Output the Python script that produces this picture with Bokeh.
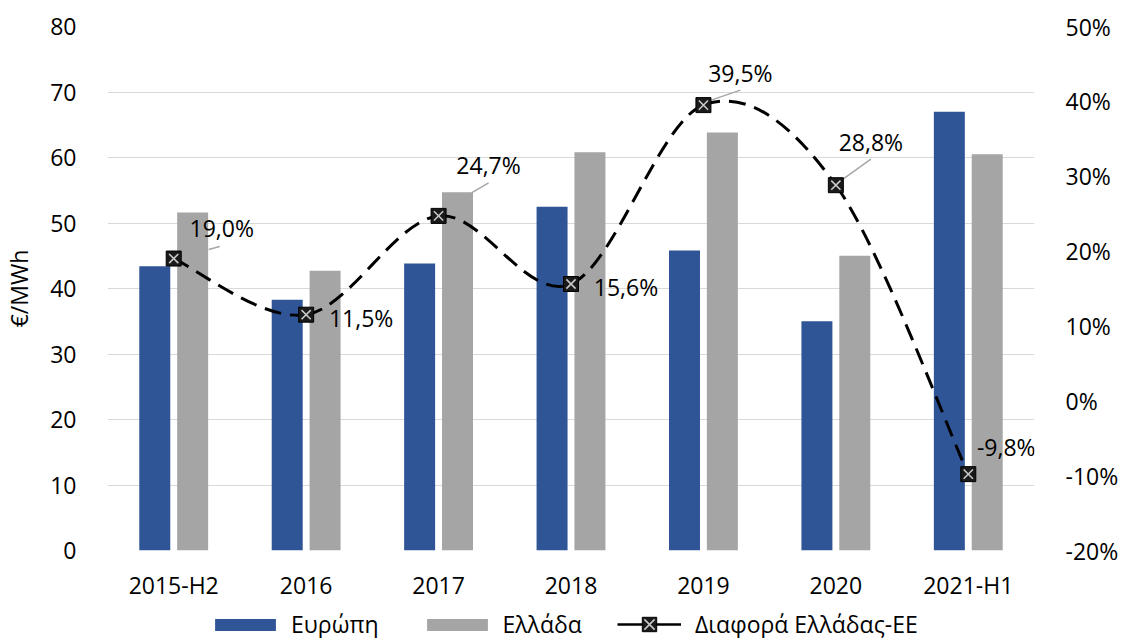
import numpy as np
from bokeh.plotting import figure
from bokeh.layouts import column
from bokeh.models import (Range1d, LinearAxis, FixedTicker, PrintfTickFormatter,
                          ColumnDataSource, Legend, LegendItem)
from bokeh.core.properties import value
from bokeh.embed import file_html
from bokeh.resources import INLINE

categories = ["2015-H2", "2016", "2017", "2018", "2019", "2020", "2021-H1"]
europe = [43.4, 38.3, 43.8, 52.5, 45.8, 35.0, 67.0]
greece = [51.6, 42.7, 54.7, 60.8, 63.8, 45.0, 60.5]
diff_pct = [19.0, 11.5, 24.7, 15.6, 39.5, 28.8, -9.8]
diff_labels = ["19,0%", "11,5%", "24,7%", "15,6%", "39,5%", "28,8%", "-9,8%"]
left_ticks = [0, 10, 20, 30, 40, 50, 60, 70, 80]
right_ticks = [-20, -10, 0, 10, 20, 30, 40, 50]

FONT = "Open Sans"
BLUE = "#2F5597"
GRAY = "#A5A5A5"
FS = "23px"

x = np.arange(len(categories), dtype=float)

p = figure(frame_width=927, frame_height=524, output_backend="svg", toolbar_location=None,
           x_range=Range1d(-0.5, len(categories) - 0.5), y_range=Range1d(0, 80),
           min_border_left=106, min_border_right=85, min_border_top=26, min_border_bottom=46)
p.outline_line_color = None
p.extra_y_ranges = {"pct": Range1d(-20, 50)}

# grid
p.xgrid.visible = False
p.ygrid.grid_line_color = "#D9D9D9"
p.ygrid.grid_line_width = 1.2
p.ygrid.ticker = FixedTicker(ticks=left_ticks)

# axes
for ax in [p.xaxis[0], p.yaxis[0]]:
    ax.axis_line_color = None
    ax.major_tick_line_color = None
    ax.minor_tick_line_color = None
    ax.major_label_text_font = FONT
    ax.major_label_text_font_size = FS
    ax.major_label_text_color = "#000000"
p.xaxis.ticker = FixedTicker(ticks=list(x))
p.xaxis.major_label_overrides = {i: c for i, c in enumerate(categories)}
p.xaxis.major_label_standoff = 12
p.yaxis.ticker = FixedTicker(ticks=left_ticks)
p.yaxis.major_label_standoff = 25
p.yaxis.axis_label = "€/MWh"
p.yaxis.axis_label_text_font = FONT
p.yaxis.axis_label_text_font_size = FS
p.yaxis.axis_label_text_font_style = "normal"
p.yaxis.axis_label_text_color = "#000000"
p.yaxis.axis_label_standoff = 12

rax = LinearAxis(y_range_name="pct", ticker=FixedTicker(ticks=right_ticks),
                 formatter=PrintfTickFormatter(format="%d%%"))
rax.axis_line_color = None
rax.major_tick_line_color = None
rax.minor_tick_line_color = None
rax.major_label_text_font = FONT
rax.major_label_text_font_size = FS
rax.major_label_text_color = "#000000"
rax.major_label_standoff = 25
p.add_layout(rax, "right")

# bars
off = 0.143
bw = 0.234
src = ColumnDataSource(dict(x=x, xe=x - off, xg=x + off, eu=europe, gr=greece,
                            d=diff_pct, lab=diff_labels))
p.vbar(x="xe", top="eu", width=bw, source=src, fill_color=BLUE, line_color=None)
p.vbar(x="xg", top="gr", width=bw, source=src, fill_color=GRAY, line_color=None)

# smoothed dashed line (Catmull-Rom bezier through the data points)
px = list(x)
py = list(diff_pct)
n = len(px)
x0, y0, x1, y1, cx0, cy0, cx1, cy1 = [], [], [], [], [], [], [], []
for i in range(n - 1):
    pm = i - 1 if i > 0 else i
    pn = i + 2 if i + 2 < n else i + 1
    x0.append(px[i]); y0.append(py[i]); x1.append(px[i + 1]); y1.append(py[i + 1])
    cx0.append(px[i] + (px[i + 1] - px[pm]) / 6.0)
    cy0.append(py[i] + (py[i + 1] - py[pm]) / 6.0)
    cx1.append(px[i + 1] - (px[pn] - px[i]) / 6.0)
    cy1.append(py[i + 1] - (py[pn] - py[i]) / 6.0)
p.bezier(x0=x0, y0=y0, x1=x1, y1=y1, cx0=cx0, cy0=cy0, cx1=cx1, cy1=cy1,
         line_color="black", line_width=3, line_dash="17 9", y_range_name="pct")

# leader lines: pixel offsets relative to markers, converted to data units
xpx = 1.0 / 132.5
ypx = 70.0 / 524.0
leaders = {0: (35, 9, 46, 12), 2: (33, 23, 50, 33), 4: (-1, 2, 37, 15), 5: (3, 3, 35, 26)}
lx0, ly0, lx1, ly1 = [], [], [], []
for i, (a, b, c, d) in leaders.items():
    lx0.append(x[i] + a * xpx); ly0.append(diff_pct[i] + b * ypx)
    lx1.append(x[i] + c * xpx); ly1.append(diff_pct[i] + d * ypx)
p.segment(x0=lx0, y0=ly0, x1=lx1, y1=ly1, line_color="#A6A6A6", line_width=1.5,
          y_range_name="pct")

# markers
p.scatter(x="x", y="d", source=src, marker="square", size=15, fill_color="#1A1A1A",
          line_color="#000000", line_width=1, y_range_name="pct")
p.scatter(x="x", y="d", source=src, marker="x", size=13, line_color="#C8C8C8",
          line_width=1.6, y_range_name="pct")

# data labels
src.data["xo"] = [48, 55, 50, 55, 37, 35, 38]
src.data["yo"] = [-31, 3, -51, 3, -32, -43, -27]
p.text(x="x", y="d", text="lab", source=src, x_offset="xo", y_offset="yo",
       text_font=value(FONT), text_font_size=FS, text_color="#000000",
       text_align="center", text_baseline="middle", y_range_name="pct")

# legend strip (separate figure so it is not clipped)
lg = figure(width=1118, height=42, output_backend="svg", toolbar_location=None,
            x_range=Range1d(0, 1), y_range=Range1d(0, 1),
            min_border_left=0, min_border_right=0, min_border_top=0, min_border_bottom=0)
lg.outline_line_color = None
lg.xaxis.visible = False
lg.yaxis.visible = False
lg.grid.visible = False
nan = float("nan")
r_eu = lg.vbar(x=[nan], top=[nan], width=0.1, fill_color=BLUE, line_color=None)
r_gr = lg.vbar(x=[nan], top=[nan], width=0.1, fill_color=GRAY, line_color=None)
d_line = lg.line(x=[nan, nan], y=[nan, nan], line_color="black", line_width=2.5)
d_sq = lg.scatter(x=[nan], y=[nan], marker="square", size=15, fill_color="#1A1A1A",
                  line_color="#000000")
d_x = lg.scatter(x=[nan], y=[nan], marker="x", size=13, line_color="#C8C8C8", line_width=1.6)


def style(leg, gw, gh, standoff):
    leg.label_text_font = FONT
    leg.label_text_font_size = FS
    leg.label_text_color = "#000000"
    leg.glyph_width = gw
    leg.glyph_height = gh
    leg.label_standoff = standoff
    leg.spacing = 40
    leg.border_line_color = None
    leg.background_fill_alpha = 0
    leg.margin = 0
    leg.padding = 0


leg1 = Legend(items=[LegendItem(label="Ευρώπη", renderers=[r_eu]),
                     LegendItem(label="Ελλάδα", renderers=[r_gr])],
              orientation="horizontal", location=(100, 5))
style(leg1, 76, 15, 8)
leg2 = Legend(items=[LegendItem(label="Διαφορά Ελλάδας-ΕΕ", renderers=[d_line, d_sq, d_x])],
              orientation="horizontal", location=(510, 3))
style(leg2, 64, 36, 14)
lg.add_layout(leg1, "center")
lg.add_layout(leg2, "center")

layout = column(p, lg, spacing=0)
open("out.html", "w").write(file_html(layout, INLINE))
